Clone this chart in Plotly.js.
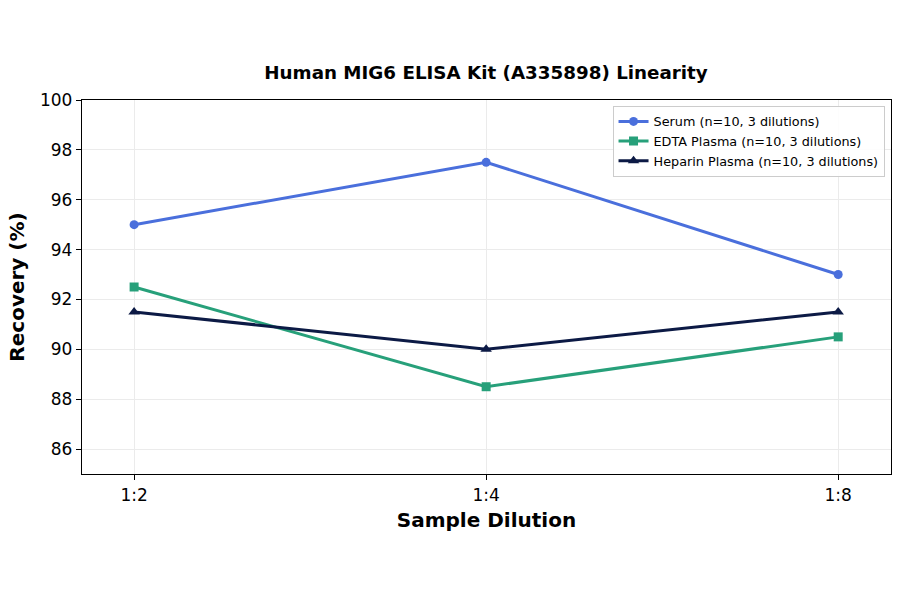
<!DOCTYPE html>
<html><head><meta charset="utf-8">
<script src="https://cdn.plot.ly/plotly-3.0.1.min.js"></script>
<style>body{margin:0;background:#fff}#c{width:900px;height:594px}</style>
</head><body><div id="c"></div>
<script>
const categories = ["1:2", "1:4", "1:8"];
const serum = [95.0, 97.5, 93.0];
const edta = [92.5, 88.5, 90.5];
const heparin = [91.5, 90.0, 91.5];
const seriesNames = ["Serum (n=10, 3 dilutions)", "EDTA Plasma (n=10, 3 dilutions)", "Heparin Plasma (n=10, 3 dilutions)"];
const xIdx = categories.map((c, i) => i);

const font = "DejaVu Sans, sans-serif";
function tr(y, name, color, symbol, size) {
  return {x: xIdx, y: y, name: name, type: "scatter", mode: "lines+markers",
    line: {color: color, width: 3}, marker: {color: color, symbol: symbol, size: size}};
}
const data = [
  tr(serum, seriesNames[0], "#4a6fdc", "circle", 9),
  tr(edta, seriesNames[1], "#27a07a", "square", 9),
  tr(heparin, seriesNames[2], "#0c1a45", "triangle-up", 10)
];
const layout = {
  width: 900, height: 594,
  paper_bgcolor: "#fff", plot_bgcolor: "#fff",
  margin: {l: 82, r: 9, t: 100, b: 120},
  title: {text: "<b>Human MIG6 ELISA Kit (A335898) Linearity</b>", font: {family: font, size: 18.3, color: "#000"}, x: 0.54, xanchor: "center", y: 0.877, yanchor: "middle"},
  showlegend: true,
  legend: {x: 0.992, y: 0.985, xanchor: "right", yanchor: "top", bgcolor: "rgba(255,255,255,0.9)", bordercolor: "#cccccc", borderwidth: 1, font: {family: font, size: 12.8, color: "#000"}, tracegroupgap: 0, itemwidth: 30},
  xaxis: {
    range: [-0.148, 2.15], tickmode: "array", tickvals: xIdx, ticktext: categories,
    showgrid: true, gridcolor: "#ebebeb", gridwidth: 1, zeroline: false,
    showline: true, linecolor: "#000", linewidth: 1.2, mirror: true,
    ticks: "outside", ticklen: 5, tickcolor: "#000",
    tickfont: {family: font, size: 17, color: "#000"},
    title: {text: "<b>Sample Dilution</b>", font: {family: font, size: 20, color: "#000"}, standoff: 9}
  },
  yaxis: {
    range: [85, 100], tickmode: "array", tickvals: [86, 88, 90, 92, 94, 96, 98, 100],
    showgrid: true, gridcolor: "#ebebeb", gridwidth: 1, zeroline: false,
    showline: true, linecolor: "#000", linewidth: 1.2, mirror: true,
    ticks: "outside", ticklen: 5, tickcolor: "#000",
    tickfont: {family: font, size: 17, color: "#000"},
    title: {text: "<b>Recovery (%)</b>", font: {family: font, size: 20, color: "#000"}, standoff: 10}
  }
};
Plotly.newPlot("c", data, layout, {displayModeBar: false, staticPlot: true});
</script></body></html>
